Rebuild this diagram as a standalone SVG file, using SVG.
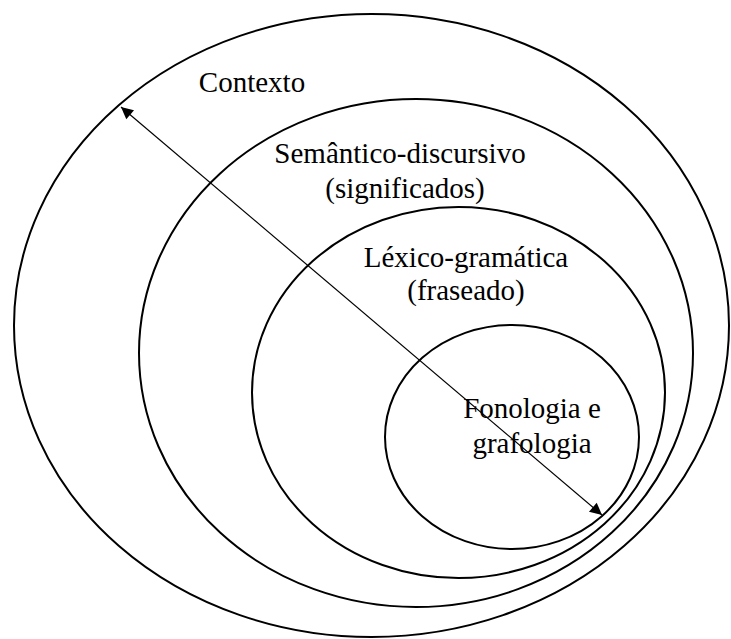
<svg xmlns="http://www.w3.org/2000/svg" width="731" height="639" viewBox="0 0 731 639">
<defs>
<style>
.ring{fill:none;stroke:#000;stroke-width:2}
.lbl{font-family:"Liberation Serif","Times New Roman",serif;font-size:29px;fill:#000;text-anchor:middle}
.conn{stroke:#000;stroke-width:1.2;fill:none}
</style>
<marker id="ah" viewBox="0 0 10 10" refX="10" refY="5" markerWidth="15" markerHeight="12" markerUnits="userSpaceOnUse" orient="auto-start-reverse">
<path d="M0,0 L10,5 L0,10 z" fill="#000"/>
</marker>
</defs>
<rect width="731" height="639" fill="#fff"/>
<g id="contexto">
<ellipse class="ring" cx="371.5" cy="325.5" rx="357.5" ry="311.5"/>
<text class="lbl" x="252" y="92">Contexto</text>
</g>
<g id="semantico">
<ellipse class="ring" cx="416" cy="353" rx="277" ry="254"/>
<text class="lbl" x="400" y="163">Semântico-discursivo</text>
<text class="lbl" x="405" y="198">(significados)</text>
</g>
<g id="lexico">
<ellipse class="ring" cx="458.5" cy="392.5" rx="206.5" ry="185.5"/>
<text class="lbl" x="466" y="267">Léxico-gramática</text>
<text class="lbl" x="466" y="300">(fraseado)</text>
</g>
<g id="fonologia">
<ellipse class="ring" cx="512" cy="437" rx="127" ry="112"/>
<text class="lbl" x="532" y="418">Fonologia e</text>
<text class="lbl" x="532" y="453">grafologia</text>
</g>
<g id="connectors">
<line class="conn" x1="121" y1="107" x2="602" y2="515" marker-start="url(#ah)" marker-end="url(#ah)"/>
</g>
</svg>
